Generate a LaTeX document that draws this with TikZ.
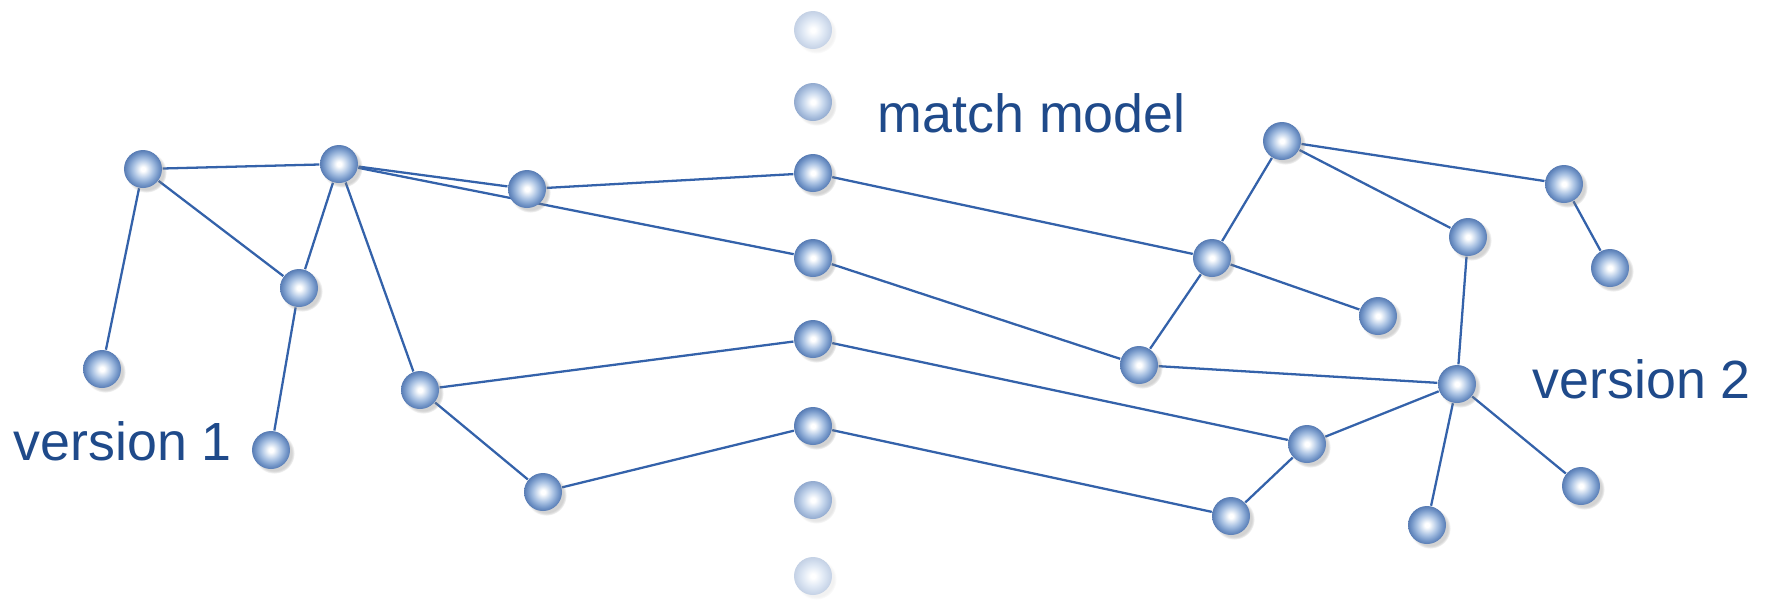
\documentclass[tikz,border=0pt]{standalone}
\usepackage{xcolor}
\usepackage{fontspec}
\setmainfont{Liberation Sans}
\usepackage{tikz}
\usetikzlibrary{shadows, backgrounds}
\definecolor{linkblue}{RGB}{52,98,170}
\definecolor{textblue}{RGB}{31,74,138}
\definecolor{ballrim}{RGB}{88,124,180}
\definecolor{ballblue}{RGB}{112,147,198}
\definecolor{ballmid}{RGB}{172,196,228}
\pgfdeclareradialshading{ballfull}{\pgfpoint{0bp}{0bp}}{color(0bp)=(white); color(3bp)=(white); color(13bp)=(ballmid); color(21bp)=(ballblue); color(25bp)=(ballrim); color(50bp)=(ballrim)}
\pgfdeclareradialshading{ballhalf}{\pgfpoint{0bp}{0bp}}{color(0bp)=(white); color(3bp)=(white); color(13bp)=(ballmid!65!white); color(21bp)=(ballblue!65!white); color(25bp)=(ballrim!65!white); color(50bp)=(ballrim!65!white)}
\pgfdeclareradialshading{ballfaint}{\pgfpoint{0bp}{0bp}}{color(0bp)=(white); color(3bp)=(white); color(13bp)=(ballmid!35!white); color(21bp)=(ballblue!35!white); color(25bp)=(ballrim!35!white); color(50bp)=(ballrim!35!white)}
\tikzstyle{orb} = [circle, minimum size=0.38cm, inner sep=0pt]
\tikzstyle{ball} = [orb, shade, shading=ballfull, circular drop shadow={shadow xshift=0.03cm, shadow yshift=-0.03cm, shadow scale=1.08, opacity=0.35}]
\tikzstyle{halfball} = [orb, shade, shading=ballhalf, circular drop shadow={shadow xshift=0.03cm, shadow yshift=-0.03cm, shadow scale=1.08, opacity=0.2}]
\tikzstyle{faintball} = [orb, shade, shading=ballfaint, circular drop shadow={shadow xshift=0.03cm, shadow yshift=-0.03cm, shadow scale=1.08, opacity=0.1}]
\tikzstyle{link} = [draw=linkblue, line width=0.65pt]
\tikzstyle{versiontext} = [text=textblue, inner sep=0pt, anchor=base west, font=\fontsize{15.3}{18}\selectfont]

\begin{document}
\begin{tikzpicture}
\useasboundingbox (0,0) rectangle (17.71,-6.00);
% version 1
\node (oldA) [ball] at (1.43,-1.69) {};
\node (oldB) [ball] at (3.39,-1.64) {};
\node (oldC) [ball] at (2.99,-2.88) {};
\node (oldD) [ball] at (1.02,-3.69) {};
\node (oldE) [ball] at (2.71,-4.50) {};
\node (oldF) [ball] at (5.27,-1.89) {};
\node (oldG) [ball] at (4.20,-3.90) {};
\node (oldH) [ball] at (5.43,-4.92) {};
% match model
\node (matchA) [faintball] at (8.13,-0.30) {};
\node (matchB) [halfball] at (8.13,-1.02) {};
\node (matchC) [ball] at (8.13,-1.73) {};
\node (matchD) [ball] at (8.13,-2.58) {};
\node (matchE) [ball] at (8.13,-3.39) {};
\node (matchF) [ball] at (8.13,-4.26) {};
\node (matchG) [halfball] at (8.13,-5.00) {};
\node (matchH) [faintball] at (8.13,-5.76) {};
% version 2
\node (newA) [ball] at (12.82,-1.41) {};
\node (newB) [ball] at (15.64,-1.84) {};
\node (newC) [ball] at (14.68,-2.37) {};
\node (newD) [ball] at (16.10,-2.68) {};
\node (newE) [ball] at (12.12,-2.58) {};
\node (newF) [ball] at (13.78,-3.16) {};
\node (newG) [ball] at (11.39,-3.65) {};
\node (newH) [ball] at (14.57,-3.84) {};
\node (newI) [ball] at (13.07,-4.44) {};
\node (newJ) [ball] at (15.81,-4.86) {};
\node (newK) [ball] at (12.31,-5.16) {};
\node (newL) [ball] at (14.27,-5.25) {};

\node (txtOne) [versiontext] at (0.13,-4.60) {version 1};
\node (txtMatch) [versiontext] at (8.77,-1.32) {match model};
\node (txtTwo) [versiontext] at (15.32,-3.98) {version 2};

\begin{scope}[on background layer]
\draw [link] (oldA) -- (oldB);
\draw [link] (oldA) -- (oldC);
\draw [link] (oldA) -- (oldD);
\draw [link] (oldB) -- (oldC);
\draw [link] (oldC) -- (oldE);
\draw [link] (oldB) -- (oldF);
\draw [link] (oldB) -- (matchD);
\draw [link] (oldB) -- (oldG);
\draw [link] (oldF) -- (matchC);
\draw [link] (oldG) -- (matchE);
\draw [link] (oldG) -- (oldH);
\draw [link] (oldH) -- (matchF);
\draw [link] (matchC) -- (newE);
\draw [link] (matchD) -- (newG);
\draw [link] (matchE) -- (newI);
\draw [link] (matchF) -- (newK);
\draw [link] (newE) -- (newA);
\draw [link] (newE) -- (newF);
\draw [link] (newE) -- (newG);
\draw [link] (newA) -- (newB);
\draw [link] (newA) -- (newC);
\draw [link] (newB) -- (newD);
\draw [link] (newC) -- (newH);
\draw [link] (newG) -- (newH);
\draw [link] (newI) -- (newH);
\draw [link] (newI) -- (newK);
\draw [link] (newH) -- (newJ);
\draw [link] (newH) -- (newL);
\end{scope}
\end{tikzpicture}
\end{document}
